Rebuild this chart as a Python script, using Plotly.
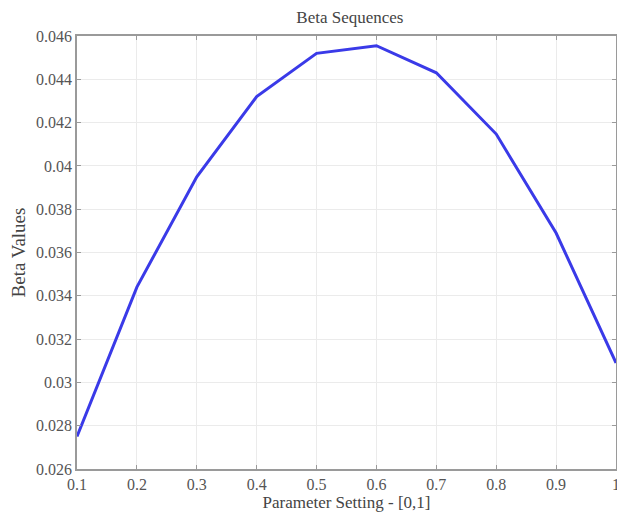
import plotly.graph_objects as go

x_vals = [0.1, 0.2, 0.3, 0.4, 0.5, 0.6, 0.7, 0.8, 0.9, 1.0]
beta_vals = [0.0275, 0.0344, 0.0395, 0.0432, 0.0452, 0.04555, 0.0443, 0.04147, 0.0369, 0.0309]

x_ticks = [0.1, 0.2, 0.3, 0.4, 0.5, 0.6, 0.7, 0.8, 0.9, 1.0]
x_ticktext = ["0.1", "0.2", "0.3", "0.4", "0.5", "0.6", "0.7", "0.8", "0.9", "1"]
y_ticks = [0.026, 0.028, 0.030, 0.032, 0.034, 0.036, 0.038, 0.040, 0.042, 0.044, 0.046]
y_ticktext = ["0.026", "0.028", "0.03", "0.032", "0.034", "0.036", "0.038", "0.04", "0.042", "0.044", "0.046"]

font_fam = "Liberation Serif, Times New Roman, serif"

fig = go.Figure()
fig.add_trace(go.Scatter(x=x_vals, y=beta_vals, mode="lines",
                         line=dict(color="#3a3ae8", width=3)))

axis_common = dict(showgrid=True, gridcolor="#ebebeb", gridwidth=1,
                   showline=True, linecolor="#9a9a9a", linewidth=1.5, mirror="ticks",
                   ticks="inside", ticklen=4, tickcolor="#9a9a9a", zeroline=False,
                   automargin=False, ticklabeloverflow="allow",
                   tickfont=dict(family=font_fam, size=16, color="#555"))

fig.update_layout(
    width=625, height=517,
    margin=dict(l=69, r=17, t=28, b=56),
    paper_bgcolor="white", plot_bgcolor="white",
    showlegend=False,
    title=dict(text="Beta Sequences", x=0.547, xanchor="center", y=0.9826, yanchor="middle",
               font=dict(family=font_fam, size=17, color="#444")),
    xaxis=dict(range=[0.1, 1.0], tickvals=x_ticks, ticktext=x_ticktext,
               title=dict(text="Parameter Setting - [0,1]", standoff=2,
                          font=dict(family=font_fam, size=17, color="#444")),
               **axis_common),
    yaxis=dict(range=[0.026, 0.046], tickvals=y_ticks, ticktext=y_ticktext,
               title=dict(text="Beta Values", standoff=5,
                          font=dict(family=font_fam, size=19, color="#444")),
               **axis_common),
)

fig.write_html("out.html")
